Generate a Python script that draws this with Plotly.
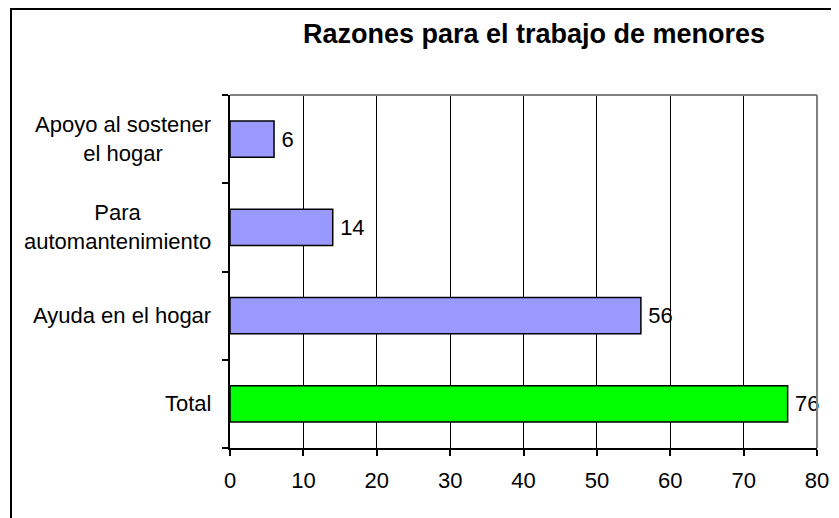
import plotly.graph_objects as go

categories = ["Total", "Ayuda en el hogar", "Para automantenimiento", "Apoyo al sostener el hogar"]
labels = ["Total", "Ayuda en el hogar", "Para<br>automantenimiento", "Apoyo al sostener<br>el hogar"]
values = [76, 56, 14, 6]
colors = ["#00FF00", "#9999FF", "#9999FF", "#9999FF"]
x_ticks = [0, 10, 20, 30, 40, 50, 60, 70, 80]

FONT = "Liberation Sans, Arial, sans-serif"
O = 8  # page body margin offset
W, H = 839 - O, 518 - O
L, R, T, B = 230 - O, 22, 95 - O, 70
pw, ph = W - L - R, H - T - B

fig = go.Figure(go.Bar(
    x=values, y=categories, orientation="h",
    marker=dict(color=colors, line=dict(color="black", width=1.5)),
    width=0.41,
    text=["\u2009" + str(v) for v in values], textposition="outside",
    textfont=dict(family=FONT, size=22, color="black"),
    cliponaxis=False, hoverinfo="skip",
))

annotations = []
for c, lab in zip(categories, labels):
    annotations.append(dict(
        x=(213 - O - L) / pw, xref="paper", y=c, yref="y",
        text=lab, showarrow=False, xanchor="right", yanchor="middle",
        align="center", font=dict(family=FONT, size=22, color="black"),
    ))

shapes = [
    # outer frame
    dict(type="rect", xref="paper", yref="paper",
         x0=(11 - O - L) / pw, x1=(W + 20 - L) / pw,
         y0=-(H + 20 - (T + ph)) / ph, y1=(T + ph - (9 - O)) / ph,
         line=dict(color="black", width=2), layer="above"),
    # top and right plot-area border (gray)
    dict(type="line", xref="paper", yref="paper", x0=0, x1=1, y0=1, y1=1,
         line=dict(color="#808080", width=2), layer="above"),
    dict(type="line", xref="paper", yref="paper", x0=1, x1=1, y0=0, y1=1,
         line=dict(color="#808080", width=2), layer="above"),
]

fig.update_layout(
    width=W, height=H,
    margin=dict(l=L, r=R, t=T, b=B, autoexpand=False),
    paper_bgcolor="white", plot_bgcolor="white",
    showlegend=False,
    font=dict(family=FONT, size=22, color="black"),
    title=dict(text="<b>Razones para el trabajo de menores</b>",
               x=(534 - O) / W, xref="container", xanchor="center",
               y=1 - (34 - O) / H, yref="container", yanchor="middle",
               font=dict(family=FONT, size=27, color="black")),
    xaxis=dict(range=[0, 80], tickvals=x_ticks, ticktext=[str(t) for t in x_ticks],
               showgrid=True, gridcolor="black", gridwidth=1,
               showline=True, linecolor="black", linewidth=2,
               ticks="outside", ticklen=6, tickcolor="black", tickwidth=1.5,
               ticklabelstandoff=6,
               tickfont=dict(family=FONT, size=22, color="black"),
               zeroline=False, fixedrange=True),
    yaxis=dict(type="category", categoryorder="array", categoryarray=categories,
               showline=True, linecolor="black", linewidth=2,
               ticks="outside", tickson="boundaries", ticklen=6,
               tickcolor="black", tickwidth=1.5,
               showticklabels=False, showgrid=False, zeroline=False, fixedrange=True),
    annotations=annotations,
    shapes=shapes,
    bargap=0.59,
)

fig.write_html("out.html")
